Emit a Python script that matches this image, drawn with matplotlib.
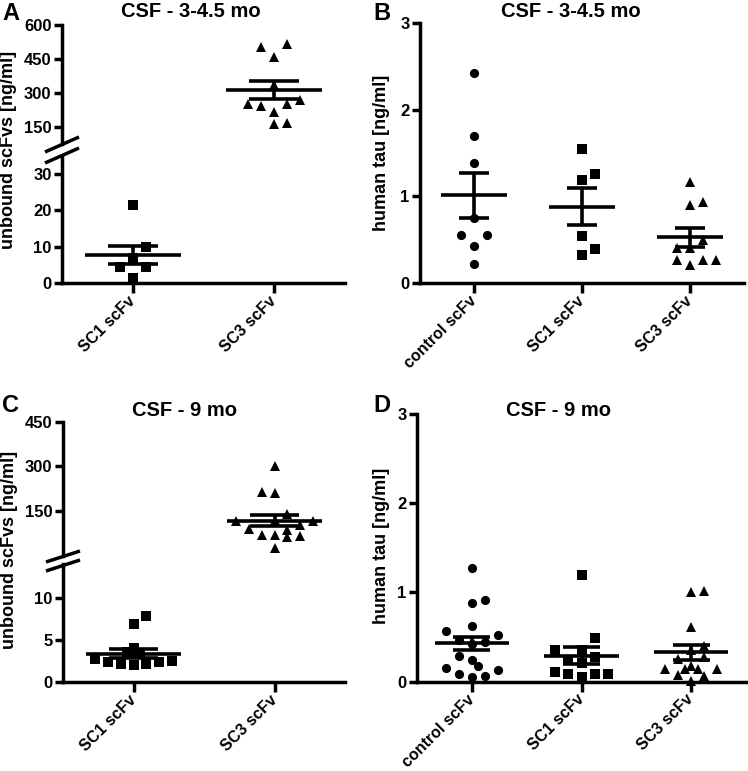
import matplotlib
matplotlib.use('Agg')
import matplotlib.pyplot as plt
from matplotlib.lines import Line2D
import numpy as np

plt.rcParams['font.family'] = ['Liberation Sans', 'DejaVu Sans']
plt.rcParams['font.weight'] = 'bold'
plt.rcParams['axes.linewidth'] = 2.0

# ---------------- data ----------------
cats_AC = ['SC1 scFv', 'SC3 scFv']
cats_BD = ['control scFv', 'SC1 scFv', 'SC3 scFv']

# Panel A  CSF 3-4.5 mo, unbound scFvs [ng/ml]
a_sc1 = [21.5, 10.0, 6.8, 4.5, 4.5, 1.3]
a_sc3 = [504, 515, 460, 335, 269, 251, 243, 251, 217, 163, 169]
a_mean = [7.7, 313]
a_sem = [2.45, 40]

# Panel B  CSF 3-4.5 mo, human tau [ng/ml]
b_control = [2.42, 1.70, 1.38, 0.75, 0.55, 0.55, 0.43, 0.22]
b_sc1 = [1.55, 1.19, 1.26, 0.54, 0.39, 0.32]
b_sc3 = [1.17, 0.90, 0.93, 0.50, 0.40, 0.40, 0.26, 0.21, 0.26, 0.26]
b_mean = [1.01, 0.88, 0.53]
b_sem = [0.265, 0.215, 0.11]

# Panel C  CSF 9 mo, unbound scFvs [ng/ml]
c_sc1 = [7.8, 6.9, 4.1, 3.6, 3.3, 2.7, 2.4, 2.15, 2.0, 2.15, 2.4, 2.5]
c_sc3 = [300, 216, 211, 142, 120, 118, 118, 90, 104, 70, 70, 87, 63, 66, 28]
c_mean = [3.4, 118]
c_sem = [0.5, 18.5]

# Panel D  CSF 9 mo, human tau [ng/ml]
d_control = [1.27, 0.88, 0.91, 0.62, 0.57, 0.52, 0.47, 0.42, 0.45, 0.29,
             0.24, 0.18, 0.15, 0.09, 0.05, 0.06, 0.13]
d_sc1 = [1.20, 0.49, 0.36, 0.36, 0.28, 0.24, 0.21, 0.11, 0.09, 0.09, 0.09, 0.05]
d_sc3 = [1.00, 1.02, 0.61, 0.40, 0.36, 0.25, 0.28, 0.18, 0.14, 0.14, 0.14,
         0.14, 0.08, 0.06, 0.01]
d_mean = [0.43, 0.29, 0.33]
d_sem = [0.075, 0.095, 0.085]

# horizontal scatter offsets (in marker steps) for overlapping points
a_sc1_jit = [0, 1, 0, -1, 1, 0]
a_sc3_jit = [-1, 1, 0, 0, 2, -2, -1, 1, 0, 0, 1]
b_control_jit = [0, 0, 0, 0, -1, 1, 0, 0]
b_sc1_jit = [0, 0, 1, 0, 1, 0]
b_sc3_jit = [0, 0, 1, 1, -1, 0, -1, 0, 1, 2]
c_sc1_jit = [1, 0, 0, -0.5, 0.5, -3, -2, -1, 0, 1, 2, 3]
c_sc3_jit = [0, -1, 0, 1, 0, -3, 3, -2, 2, -1, 0, 1, 1, 2, 0]
d_control_jit = [0, 0, 1, 0, -2, 2, -1, 0, 1, -1, 0, 0.5, -2, -1, 0, 1, 2]
d_sc1_jit = [0, 1, -2, 0, 1, -1, 0, -2, -1, 1, 2, 0]
d_sc3_jit = [0, 1, 0, 1, 0, -1, 1, 0, -0.5, 0.5, -2, 2, -1, 1, 0]

# ---------------- layout helpers ----------------
W, H = 748, 771
fig = plt.figure(figsize=(W / 100, H / 100), dpi=100)


def rect(x0, y0, x1, y1):
    return [x0 / W, 1 - y1 / H, (x1 - x0) / W, (y1 - y0) / H]


def fig_line(x0, y0, x1, y1, lw=2.5):
    fig.add_artist(Line2D([x0 / W, x1 / W], [1 - y0 / H, 1 - y1 / H],
                          transform=fig.transFigure, color='black', lw=lw,
                          solid_capstyle='butt'))


def style(ax, bottom=True):
    for s in ['top', 'right']:
        ax.spines[s].set_visible(False)
    ax.spines['left'].set_linewidth(2.5)
    ax.spines['bottom'].set_linewidth(2.5)
    ax.tick_params(axis='y', length=6, width=2.5, labelsize=12, pad=1.5)
    ax.patch.set_alpha(0)
    if bottom:
        ax.tick_params(axis='x', length=7, width=2.5, labelsize=11.5, pad=4)
    else:
        ax.spines['bottom'].set_visible(False)
        ax.tick_params(axis='x', length=0, labelbottom=False)


MS = {'o': 6.6, 's': 6.8, '^': 7.6}


def group(ax, xpos, vals, jit, marker, step, mean, sem, mw, cw):
    xs = xpos + np.array(jit, dtype=float) * step
    ax.plot(xs, vals, linestyle='none', marker=marker, color='black',
            ms=MS[marker], mew=0, clip_on=False, zorder=3)
    ax.hlines(mean, xpos - mw, xpos + mw, color='black', lw=2.6, zorder=4,
              clip_on=False)
    ax.hlines([mean - sem, mean + sem], xpos - cw, xpos + cw, color='black',
              lw=2.6, zorder=4, clip_on=False)
    ax.vlines(xpos, mean - sem, mean + sem, color='black', lw=2.6, zorder=4,
              clip_on=False)


def xlabels(ax, cats):
    ax.set_xticks(range(len(cats)))
    ax.set_xticklabels(cats, rotation=45, ha='right', va='center',
                       rotation_mode='anchor', fontweight='bold')


# ---------------- Panel A ----------------
stepAC = 13 / 142
axA_up = fig.add_axes(rect(62, 25, 345, 144))
axA_lo = fig.add_axes(rect(62, 156, 345, 283))
for ax in (axA_up, axA_lo):
    ax.set_xlim(-0.5, 1.5)
axA_up.set_ylim(75, 600)
axA_up.set_yticks([150, 300, 450, 600])
axA_lo.set_ylim(0, 35)
axA_lo.set_yticks([0, 10, 20, 30])
style(axA_up, bottom=False)
style(axA_lo)
xlabels(axA_lo, cats_AC)
group(axA_lo, 0, a_sc1, a_sc1_jit, 's', stepAC, a_mean[0], a_sem[0], 0.34, 0.175)
group(axA_up, 1, a_sc3, a_sc3_jit, '^', stepAC, a_mean[1], a_sem[1], 0.34, 0.175)
fig_line(45, 152, 79, 137)
fig_line(45, 163, 79, 148)

# ---------------- Panel B ----------------
stepBD = 13 / 109
axB = fig.add_axes(rect(420, 23, 744, 283))
axB.set_xlim(-0.5, 2.5)
axB.set_ylim(0, 3)
axB.set_yticks([0, 1, 2, 3])
style(axB)
xlabels(axB, cats_BD)
group(axB, 0, b_control, b_control_jit, 'o', stepBD, b_mean[0], b_sem[0], 0.31, 0.14)
group(axB, 1, b_sc1, b_sc1_jit, 's', stepBD, b_mean[1], b_sem[1], 0.31, 0.14)
group(axB, 2, b_sc3, b_sc3_jit, '^', stepBD, b_mean[2], b_sem[2], 0.31, 0.14)

# ---------------- Panel C ----------------
axC_up = fig.add_axes(rect(63, 421.7, 345, 556))
axC_lo = fig.add_axes(rect(63, 564, 345, 682.3))
for ax in (axC_up, axC_lo):
    ax.set_xlim(-0.5, 1.5)
axC_up.set_ylim(0, 450)
axC_up.set_yticks([150, 300, 450])
axC_lo.set_ylim(0, 14)
axC_lo.set_yticks([0, 5, 10])
style(axC_up, bottom=False)
style(axC_lo)
xlabels(axC_lo, cats_AC)
group(axC_lo, 0, c_sc1, c_sc1_jit, 's', stepAC, c_mean[0], c_sem[0], 0.34, 0.175)
group(axC_up, 1, c_sc3, c_sc3_jit, '^', stepAC, c_mean[1], c_sem[1], 0.34, 0.175)
fig_line(46, 562, 80, 551)
fig_line(46, 571, 80, 560)

# ---------------- Panel D ----------------
axD = fig.add_axes(rect(417, 414, 746, 681.7))
axD.set_xlim(-0.5, 2.5)
axD.set_ylim(0, 3)
axD.set_yticks([0, 1, 2, 3])
style(axD)
xlabels(axD, cats_BD)
group(axD, 0, d_control, d_control_jit, 'o', stepBD, d_mean[0], d_sem[0], 0.34, 0.17)
group(axD, 1, d_sc1, d_sc1_jit, 's', stepBD, d_mean[1], d_sem[1], 0.34, 0.17)
group(axD, 2, d_sc3, d_sc3_jit, '^', stepBD, d_mean[2], d_sem[2], 0.34, 0.17)

# ---------------- texts ----------------
def ftext(x, y, s, **kw):
    fig.text(x / W, 1 - y / H, s, fontweight='bold', **kw)

ftext(2, 20, 'A', fontsize=17, ha='left', va='baseline')
ftext(373, 20, 'B', fontsize=17, ha='left', va='baseline')
ftext(2, 412, 'C', fontsize=17, ha='left', va='baseline')
ftext(373, 412, 'D', fontsize=17, ha='left', va='baseline')

ftext(191, 17, 'CSF - 3-4.5 mo', fontsize=14.5, ha='center', va='baseline')
ftext(571, 17, 'CSF - 3-4.5 mo', fontsize=14.5, ha='center', va='baseline')
ftext(184, 416, 'CSF - 9 mo', fontsize=14.5, ha='center', va='baseline')
ftext(558, 416, 'CSF - 9 mo', fontsize=14.5, ha='center', va='baseline')

ftext(9, 150, 'unbound scFvs [ng/ml]', fontsize=13, rotation=90,
      ha='center', va='center')
ftext(10, 550, 'unbound scFvs [ng/ml]', fontsize=13, rotation=90,
      ha='center', va='center')
ftext(381, 153, 'human tau [ng/ml]', fontsize=13, rotation=90,
      ha='center', va='center')
ftext(381, 546, 'human tau [ng/ml]', fontsize=13, rotation=90,
      ha='center', va='center')

fig.savefig('out.png', dpi=100, facecolor='white')
